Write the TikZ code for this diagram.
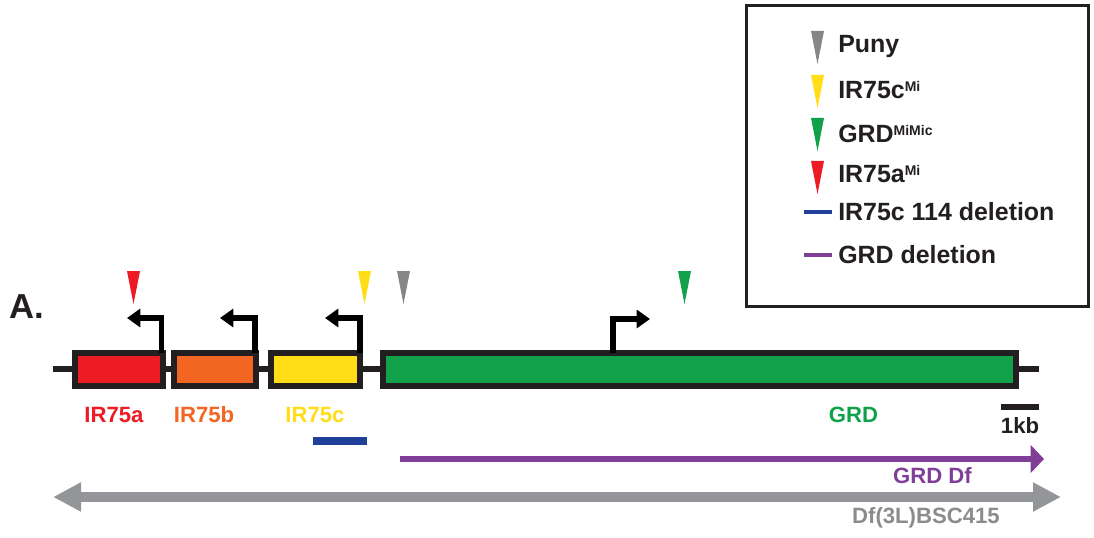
\documentclass[tikz,border=0pt]{standalone}
\usepackage{fontspec}
\setmainfont{Liberation Sans}
\usetikzlibrary{arrows.meta}
\definecolor{cred}{HTML}{ED1C24}
\definecolor{corange}{HTML}{F26522}
\definecolor{cyellow}{HTML}{FFDE17}
\definecolor{cgreen}{HTML}{10A14A}
\definecolor{cblack}{HTML}{231F20}
\definecolor{cgreytri}{HTML}{858688}
\definecolor{cgrey}{HTML}{939598}
\definecolor{cgreytext}{HTML}{8A8B8D}
\definecolor{cblue}{HTML}{21409A}
\definecolor{cpurple}{HTML}{7F3F98}
\newcommand\insmark[3]{\fill[#3] (#1-6.5,#2) -- (#1+6.5,#2) -- (#1,#2+33) -- cycle;}
\begin{document}
\begin{tikzpicture}[x=0.75pt,y=-0.75pt,
  genebox/.style={draw=cblack, line width=4.5pt},
  backbone/.style={draw=cblack, line width=4.5pt},
  promo/.style={draw=black, line width=4.2pt, line join=miter,
    -{Triangle[length=10pt,width=13.5pt]}},
  lbl/.style={font=\fontsize{16.6}{18}\selectfont\bfseries, inner sep=0pt, anchor=base},
  leg/.style={font=\fontsize{18.7}{20}\selectfont\bfseries, inner sep=0pt, anchor=base west, text=cblack}]
\useasboundingbox (0,0) rectangle (1094,538);

% legend box
\draw[cblack, line width=2.6pt] (746.5,5.5) rectangle (1088.5,306.5);
\insmark{817.5}{31}{cgreytri}
\insmark{817.5}{75}{cyellow}
\insmark{817.5}{118}{cgreen}
\insmark{817.5}{161}{cred}
\node[leg] (lp) at (838,53) {Puny};
\node[leg] (lc) at (838,99) {IR75c\raisebox{5.6pt}{\fontsize{10.5}{12}\selectfont Mi}};
\node[leg] (lg) at (838,142.5) {GRD\raisebox{5.6pt}{\fontsize{10.5}{12}\selectfont MiMic}};
\node[leg] (la) at (838,183) {IR75a\raisebox{5.6pt}{\fontsize{10.5}{12}\selectfont Mi}};
\node[leg] (ld) at (838,220) {IR75c 114 deletion};
\node[leg] (lgd) at (838,263) {GRD deletion};
\coordinate (lb1) at (804,212);
\coordinate (lb2) at (832,212);
\coordinate (lp1) at (804,255);
\coordinate (lp2) at (832,255);
\draw[cblue, line width=3pt] (lb1) -- (lb2);
\draw[cpurple, line width=3pt] (lp1) -- (lp2);

% panel label
\node[font=\fontsize{26}{28}\selectfont\bfseries, inner sep=0pt, anchor=base west, text=cblack] (A) at (9,318) {A.};

% backbone
\coordinate (bbL) at (53,369);
\coordinate (bbR) at (1039,369);
\draw[backbone] (bbL) -- (bbR);

% genes
\draw[genebox, fill=cred] (75,353) rectangle (163,386);
\draw[genebox, fill=corange] (174,353) rectangle (256,386);
\draw[genebox, fill=cyellow] (271,353) rectangle (360,386);
\draw[genebox, fill=cgreen] (383,353) rectangle (1016,386);

% promoter arrows
\draw[promo] (161.5,353) -- (161.5,318) -- (127,318);
\draw[promo] (255,353) -- (255,318) -- (220,318);
\draw[promo] (360,353) -- (360,318) -- (325,318);
\draw[promo] (613,353) -- (613,319) -- (650,319);

% insertion markers
\insmark{133.5}{271}{cred}
\insmark{364.5}{271}{cyellow}
\insmark{403.5}{271}{cgreytri}
\insmark{684.5}{271}{cgreen}

% gene labels
\node[lbl, text=cred] (na) at (114,422) {IR75a};
\node[lbl, text=corange] (nb) at (204,422) {IR75b};
\node[lbl, text=cyellow] (nc) at (315,422) {IR75c};
\node[lbl, text=cgreen] (ng) at (853.5,422) {GRD};

% scale bar
\coordinate (s1) at (1001,407);
\coordinate (s2) at (1039,407);
\draw[cblack, line width=4.2pt] (s1) -- (s2);
\node[lbl, text=cblack] (kb) at (1020,433) {1kb};

% deletion bar
\coordinate (d1) at (313,441);
\coordinate (d2) at (367,441);
\draw[cblue, line width=5.5pt] (d1) -- (d2);

% GRD Df arrow
\coordinate (g1) at (400,459);
\coordinate (g2) at (1044,459);
\draw[cpurple, line width=4.6pt, -{Triangle[length=10pt,width=20.5pt]}] (g1) -- (g2);
\node[lbl, anchor=base east, text=cpurple] (gdf) at (972,483) {GRD Df};

% Df(3L)BSC415 arrow
\coordinate (b1) at (53,497);
\coordinate (b2) at (1061,497);
\draw[cgrey, line width=7pt, {Triangle[length=21pt,width=20.5pt]}-{Triangle[length=21pt,width=20.5pt]}] (b1) -- (b2);
\node[lbl, anchor=base east, text=cgreytext] (bsc) at (1000,523) {Df(3L)BSC415};
\end{tikzpicture}
\end{document}
